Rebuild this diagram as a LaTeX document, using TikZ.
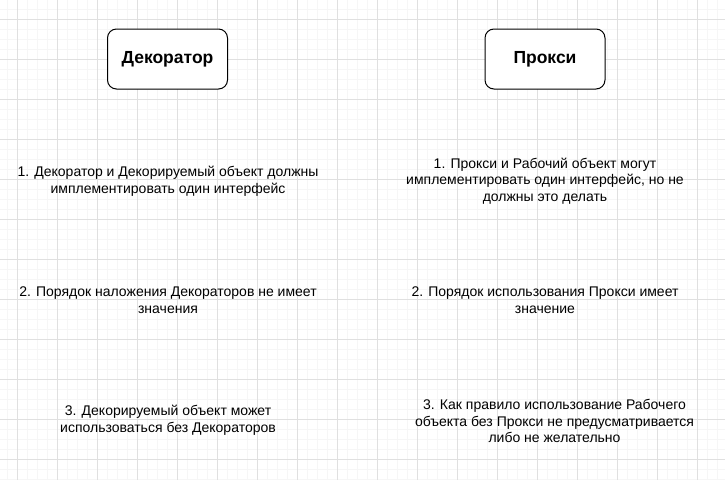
\documentclass[tikz,border=0pt]{standalone}
\usepackage{fontspec}
\setmainfont{Liberation Sans}
\usetikzlibrary{positioning}

\begin{document}
\begin{tikzpicture}[x=1pt,y=-1pt,
    pattern/.style={draw=black, fill=white, line width=1pt, rounded corners=9pt,
        minimum width=120pt, minimum height=60pt,
        font=\fontsize{17.5}{21}\selectfont\bfseries},
    rule/.style={align=center, font=\fontsize{14}{16.8}\selectfont}]
    % Fixes the page size.
    \useasboundingbox[fill=white] (0,0) rectangle (725,480);

    % Draw minor grid.
    \foreach \x in {7,17,...,717}
        \draw[line width=1pt, gray!7] (\x,0) -- (\x,480);
    \foreach \y in {9,19,...,479}
        \draw[line width=1pt, gray!7] (0,\y) -- (725,\y);

    % Draw major grid.
    \foreach \x in {17,57,...,697}
        \draw[line width=1pt, gray!24] (\x,0) -- (\x,480);
    \foreach \y in {19,59,...,459}
        \draw[line width=1pt, gray!24] (0,\y) -- (725,\y);

    % Draw the two patterns.
    \node[pattern] (decorator) at (167.5,59) {Декоратор};
    \node[pattern] (proxy) at (545,59) {Прокси};

    % Decorator rules.
    \node[rule] (dec1) at (168,181) {1. Декоратор и Декорируемый объект должны\\имплементировать один интерфейс};
    \node[rule] (dec2) at (168,300) {2. Порядок наложения Декораторов не имеет\\значения};
    \node[rule] (dec3) at (168,420) {3. Декорируемый объект может\\использоваться без Декораторов};

    % Proxy rules.
    \node[rule] (prx1) at (545,181) {1. Прокси и Рабочий объект могут\\имплементировать один интерфейс, но не\\должны это делать};
    \node[rule] (prx2) at (545,300) {2. Порядок использования Прокси имеет\\значение};
    \node[rule] (prx3) at (554.5,421) {3. Как правило использование Рабочего\\объекта без Прокси не предусматривается\\либо не желательно};
\end{tikzpicture}
\end{document}
